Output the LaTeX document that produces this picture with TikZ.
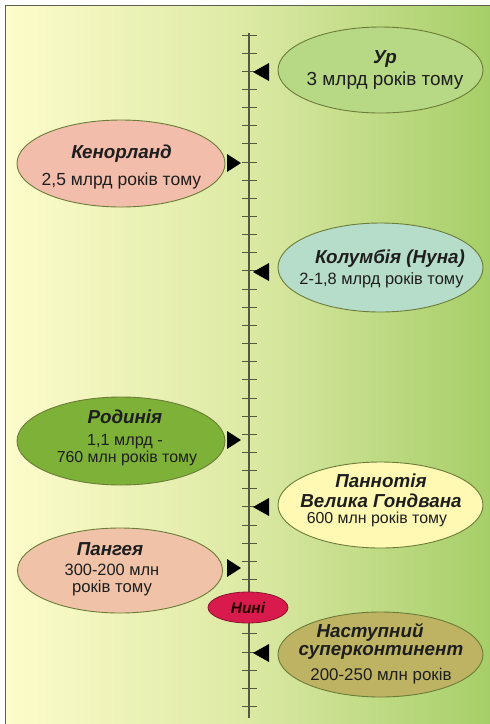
\documentclass[tikz,border=0pt]{standalone}
\usepackage{fontspec}
\setmainfont{Liberation Sans}
\usetikzlibrary{shapes.geometric}
\definecolor{bgL}{HTML}{FDFCCB}
\definecolor{bgM}{HTML}{DCE9A4}
\definecolor{bgR}{HTML}{A6CE68}
\definecolor{frameC}{HTML}{5E5E4E}
\definecolor{axisC}{HTML}{55583A}
\definecolor{edgeC}{HTML}{6B7C38}
\definecolor{cUr}{HTML}{B7D884}
\definecolor{cKen}{HTML}{F3BDAC}
\definecolor{cKol}{HTML}{B6DCCA}
\definecolor{cRod}{HTML}{7DB137}
\definecolor{cPan}{HTML}{FFF9B3}
\definecolor{cPang}{HTML}{F0C3A9}
\definecolor{cNas}{HTML}{BDB363}
\definecolor{cNow}{HTML}{D81B4C}
\definecolor{cNowE}{HTML}{8A1430}
\definecolor{txt}{HTML}{1E1E1E}
\newcommand\ttlf{\bfseries\itshape\fontsize{18.8}{17}\selectfont}
\newcommand\subf[1]{\mdseries\upshape\fontsize{#1}{17}\selectfont}
\tikzset{
  era/.style={ellipse, draw=edgeC, line width=0.9pt, inner sep=0pt,
    minimum width=205pt, minimum height=86pt},
  eratext/.style={align=center, text=txt, inner sep=0pt, anchor=base,
    font=\fontsize{16}{17}\selectfont},
  tick/.style={draw=axisC, line width=1pt},
  axisline/.style={draw=axisC, line width=1.2pt},
  tri/.style={fill=black}
}
\begin{document}
\begin{tikzpicture}[x=1pt,y=-1pt]
\useasboundingbox (0,0) rectangle (490,724);
\fill[white] (0,0) rectangle (490,724);
\shade[left color=bgL, right color=bgR, middle color=bgM] (5.5,5.5) rectangle (490,724);
\draw[frameC, line width=1.5pt] (5.5,724) -- (5.5,5.5) -- (490,5.5);
% axis
\coordinate (atop) at (249,33);
\coordinate (abot) at (249,718);
\draw[axisline] (atop) -- (abot);
\foreach \k in {0,...,37}{
  \draw[tick] (241.5,35+18.15*\k) -- (256.5,35+18.15*\k);
}
% ellipses
\node[era, fill=cUr] (ur) at (380.5,70) {};
\node[era, fill=cKen, minimum width=208pt, minimum height=87pt] (ken) at (121,163.5) {};
\node[era, fill=cKol, minimum height=89pt] (kol) at (380.5,267.5) {};
\node[era, fill=cRod, minimum width=208pt, minimum height=88pt] (rod) at (121,441) {};
\node[era, fill=cPan] (pan) at (380.5,505) {};
\node[era, fill=cPang, minimum height=85pt] (pang) at (120,570.5) {};
\node[era, fill=cNas, minimum height=85pt] (nas) at (380.5,654.5) {};
\node[ellipse, draw=cNowE, line width=0.8pt, fill=cNow, minimum width=80pt, minimum height=31pt, inner sep=0pt, text=black!85!red, font=\bfseries\itshape\fontsize{15.5}{15}\selectfont] (now) at (248,607.5) {Нині};
% texts
\node[eratext] (urT) at (385,85) {{\ttlf Ур}\\[3pt]{\subf{18.9}3 млрд років тому}};
\node[eratext] (kenT) at (121.5,185) {{\ttlf Кенорланд}\\[10pt]{\subf{17.5}2,5 млрд років тому}};
\node[eratext] (kolT) at (381.5,284) {\hspace*{17pt}{\ttlf Колумбія (Нуна)}\\[4pt]{\subf{16.4}2-1,8 млрд років тому}};
\node[eratext] (rodT) at (125,462) {{\ttlf Родинія}\\[5pt]{\subf{16.2}1,1 млрд -}\hspace*{5pt}\\[0pt]{\subf{15.9}760 млн років тому}\hspace*{-4pt}};
\node[eratext] (panT) at (381,523) {{\ttlf Паннотія}\\[3pt]{\ttlf Велика Гондвана}\\[-1pt]{\subf{15.9}600 млн років тому}\hspace*{8pt}};
\node[eratext] (pangT) at (112,592) {{\ttlf Пангея}\hspace*{4pt}\\[3pt]{\subf{16.4}300-200 млн}\\[0pt]{\subf{16.7}років тому}};
\node[eratext] (nasT) at (381,680) {{\ttlf Наступний}\hspace*{22pt}\\[1pt]{\ttlf суперконтинент}\\[8pt]{\subf{16.9}200-250 млн років}};
% markers
\fill[tri] (253,72) -- (269,63) -- (269,81) -- cycle;
\fill[tri] (241,163) -- (227,154) -- (227,172) -- cycle;
\fill[tri] (253,272) -- (269,263) -- (269,281) -- cycle;
\fill[tri] (241,440) -- (227,431) -- (227,449) -- cycle;
\fill[tri] (253,507) -- (269,498) -- (269,516) -- cycle;
\fill[tri] (241,568) -- (227,559) -- (227,577) -- cycle;
\fill[tri] (253,653) -- (269,644) -- (269,662) -- cycle;
\end{tikzpicture}
\end{document}
